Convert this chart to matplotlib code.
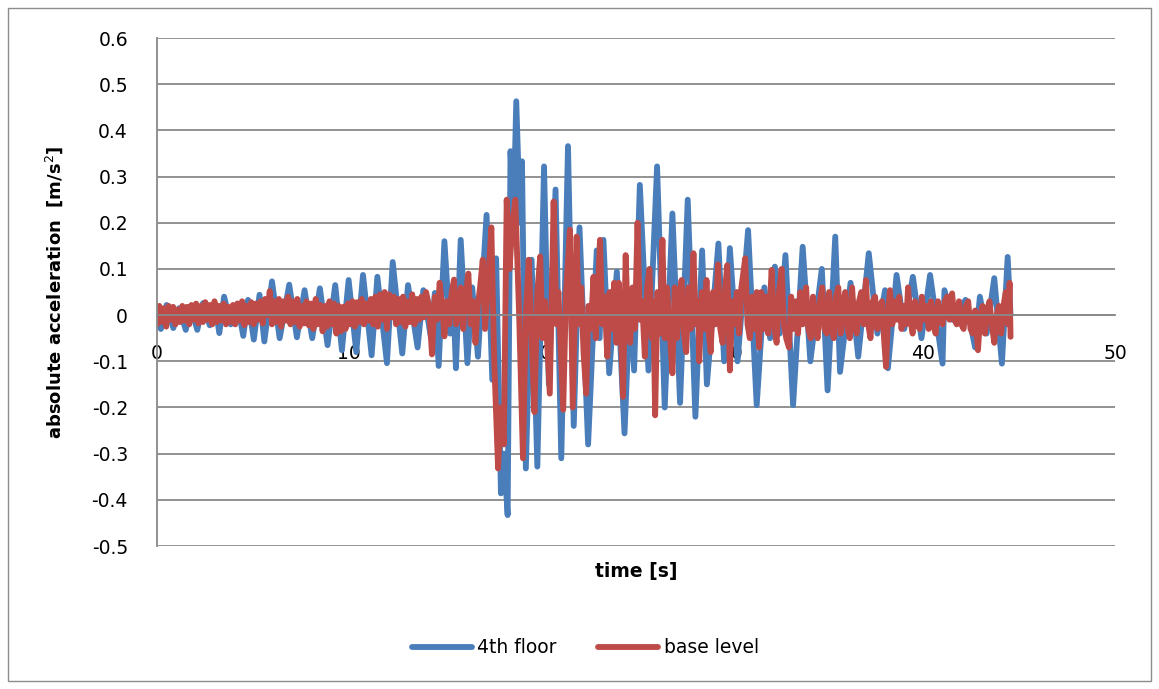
import matplotlib
matplotlib.use("Agg")
import matplotlib.pyplot as plt
from matplotlib.patches import Rectangle

# 4th floor record, peaks and troughs [s], [m/s2]
floor4_t = [0.0, 0.2, 0.5, 0.85, 1.15, 1.5, 1.75, 2.1, 2.4, 2.75, 3.05, 3.25, 3.5, 3.85,
            4.2, 4.5, 4.75, 5.05, 5.35, 5.6, 6.0, 6.4, 6.9, 7.3, 7.7, 8.1, 8.5, 8.9,
            9.3, 9.65, 10.0, 10.4, 10.75, 11.2, 11.5, 12.0, 12.3, 12.8, 13.1, 13.6,
            13.9, 14.3, 14.5, 14.7, 15.0, 15.3, 15.45, 15.6, 15.85, 16.2, 16.45, 16.75,
            17.2, 17.5, 17.7, 17.95, 18.1, 18.3, 18.45, 18.6, 18.75, 18.95, 19.05,
            19.25, 19.55, 19.85, 20.2, 20.45, 20.8, 21.1, 21.45, 21.75, 22.05, 22.5,
            22.95, 23.1, 23.3, 23.6, 24.0, 24.4, 24.7, 24.9, 25.2, 25.65, 26.1, 26.5,
            26.9, 27.3, 27.7, 28.1, 28.45, 28.7, 29.3, 29.6, 29.9, 30.3, 30.85, 31.3,
            31.7, 32.0, 32.25, 32.5, 32.8, 33.2, 33.7, 34.1, 34.7, 35.0, 35.4, 35.65,
            36.2, 36.6, 37.15, 37.6, 38.0, 38.15, 38.6, 39.0, 39.45, 39.9, 40.35, 41.0,
            41.1, 41.5, 42.2, 42.7, 42.95, 43.3, 43.7, 44.1, 44.4, 44.55]
floor4_a = [-0.01, -0.03, 0.022, -0.028, 0.015, -0.032, 0.019, -0.032, 0.026, -0.022, 0.018,
            -0.039, 0.04, -0.02, 0.025, -0.045, 0.033, -0.053, 0.044, -0.057, 0.073, -0.05,
            0.066, -0.048, 0.054, -0.05, 0.058, -0.065, 0.065, -0.076, 0.076, -0.08, 0.087,
            -0.087, 0.083, -0.104, 0.115, -0.083, 0.065, -0.07, 0.054, -0.05, 0.048, -0.11,
            0.16, -0.04, 0.05, -0.115, 0.163, -0.104, 0.06, -0.09, 0.217, -0.14, 0.123,
            -0.386, -0.3, -0.433, 0.355, 0.2, 0.463, 0.2, 0.333, -0.332, 0.12, -0.328,
            0.322, -0.15, 0.272, -0.31, 0.366, -0.24, 0.19, -0.28, 0.14, -0.05, 0.163,
            -0.126, 0.094, -0.256, 0.05, -0.12, 0.282, -0.12, 0.322, -0.2, 0.22, -0.19,
            0.25, -0.22, 0.14, -0.15, 0.155, -0.1, 0.145, -0.1, 0.184, -0.195, 0.06, -0.05,
            0.105, -0.04, 0.13, -0.195, 0.148, -0.1, 0.1, -0.163, 0.17, -0.123, 0.07, -0.09,
            0.134, -0.04, 0.054, -0.115, 0.087, -0.03, 0.083, -0.05, 0.087, -0.105, 0.054,
            -0.01, 0.033, -0.07, 0.04, -0.04, 0.08, -0.105, 0.126, 0.0]

# base level record, split by phase of the shaking: (t [s], a [m/s2])
base_early = [
    (0.00, -0.02), (0.12, 0.02), (0.24, -0.015), (0.36, 0.015), (0.48, -0.025),
    (0.60, 0.02), (0.72, -0.01), (0.84, 0.018), (0.96, -0.02), (1.08, 0.012),
    (1.20, -0.015), (1.32, 0.02), (1.44, -0.012), (1.56, 0.018), (1.68, -0.02),
    (1.80, 0.022), (1.92, -0.01), (2.04, 0.025), (2.16, -0.018), (2.28, 0.02),
    (2.40, -0.015), (2.52, 0.028), (2.64, -0.01), (2.76, 0.022), (2.88, -0.02),
    (3.00, 0.03), (3.12, -0.015), (3.24, 0.02), (3.36, -0.012), (3.48, 0.025),
    (3.60, -0.02), (3.72, 0.018), (3.84, -0.015), (3.96, 0.022), (4.08, -0.02),
    (4.20, 0.025), (4.32, -0.012), (4.44, 0.03), (4.56, -0.022), (4.68, 0.02),
    (4.80, -0.015), (4.92, 0.028), (5.04, -0.02), (5.16, 0.025), (5.28, -0.01),
    (5.40, 0.03), (5.52, -0.018), (5.64, 0.035), (5.76, 0.0), (5.88, 0.052),
    (6.00, -0.02), (6.12, 0.03), (6.24, -0.015), (6.36, 0.035), (6.48, -0.025),
    (6.60, 0.03), (6.72, -0.012), (6.84, 0.04), (6.96, -0.02), (7.08, 0.03),
    (7.20, -0.015), (7.32, 0.035), (7.44, -0.025), (7.56, 0.02), (7.68, -0.018),
    (7.80, 0.03), (7.92, -0.022), (8.04, 0.025), (8.16, -0.03), (8.28, 0.035),
    (8.40, -0.02), (8.52, 0.022), (8.64, -0.035), (8.76, 0.02), (8.88, -0.025),
    (9.00, 0.03), (9.12, -0.02), (9.24, 0.025), (9.36, -0.04), (9.48, 0.02),
    (9.60, -0.035), (9.72, 0.018), (9.84, -0.03), (9.96, 0.025), (10.08, -0.02),
    (10.20, 0.03), (10.32, -0.025), (10.44, 0.028), (10.56, -0.015), (10.68, 0.035),
    (10.80, -0.02), (10.92, 0.025), (11.04, -0.012), (11.16, 0.035), (11.28, -0.02),
    (11.40, 0.04), (11.52, -0.025), (11.64, 0.045), (11.76, -0.01), (11.88, 0.05),
    (12.00, -0.03), (12.12, 0.045), (12.24, -0.005), (12.36, 0.04), (12.48, -0.02),
    (12.60, 0.035), (12.72, -0.015), (12.84, 0.04), (12.96, -0.025), (13.08, 0.03),
    (13.20, -0.015), (13.32, 0.045), (13.44, -0.02), (13.56, 0.035), (13.68, -0.01),
    (13.80, 0.04), (13.92, -0.005), (14.04, 0.05)]
base_strong = [
    (14.20, 0.02), (14.35, -0.085), (14.50, 0.04), (14.62, -0.01), (14.75, 0.07),
    (14.88, 0.02), (15.00, -0.046), (15.12, 0.03), (15.25, -0.02), (15.38, 0.05),
    (15.50, 0.077), (15.62, -0.02), (15.74, 0.01), (15.86, 0.06), (15.98, -0.03),
    (16.10, 0.04), (16.25, 0.09), (16.37, -0.02), (16.50, 0.03), (16.62, -0.06),
    (16.74, 0.02), (16.86, 0.06), (17.00, 0.12), (17.12, -0.03), (17.25, 0.05),
    (17.45, 0.19), (17.60, -0.1), (17.80, -0.332), (17.95, -0.2), (18.10, -0.28),
    (18.25, 0.25), (18.40, 0.1), (18.55, 0.2), (18.70, 0.25), (18.90, 0.0),
    (19.10, -0.31), (19.25, 0.0), (19.40, 0.12), (19.55, -0.05), (19.70, -0.21),
    (19.85, 0.05), (20.00, 0.127), (20.12, -0.05), (20.25, 0.03), (20.50, -0.17),
    (20.70, 0.246), (20.85, -0.02), (20.95, 0.05), (21.20, -0.205), (21.35, 0.05),
    (21.55, 0.185), (21.70, -0.2), (21.90, 0.17), (22.02, -0.02), (22.14, 0.06),
    (22.26, -0.08), (22.40, -0.17), (22.52, 0.02), (22.64, -0.03), (22.78, 0.083),
    (22.90, -0.05), (23.02, 0.06), (23.12, 0.163), (23.24, -0.02), (23.36, 0.04),
    (23.50, -0.09), (23.62, 0.05), (23.74, -0.03), (23.86, 0.07), (23.98, -0.06),
    (24.10, 0.07), (24.22, -0.04), (24.32, -0.177), (24.46, 0.13), (24.58, -0.02),
    (24.70, -0.06), (24.82, 0.06), (24.94, -0.03), (25.08, 0.2), (25.20, -0.01),
    (25.32, 0.03), (25.46, -0.09), (25.58, 0.06), (25.70, 0.1), (25.82, -0.05),
    (25.90, 0.03), (26.00, -0.217), (26.12, 0.05), (26.24, -0.04), (26.38, 0.163),
    (26.50, -0.05), (26.62, 0.06), (26.76, -0.04), (26.90, -0.126), (27.02, 0.06),
    (27.14, -0.05), (27.26, 0.04), (27.38, 0.076), (27.50, -0.04), (27.62, -0.08),
    (27.74, 0.06), (27.86, -0.03), (28.00, 0.134), (28.12, -0.02), (28.24, 0.03),
    (28.30, -0.1), (28.44, 0.05), (28.56, -0.03), (28.68, 0.076), (28.80, -0.04),
    (28.90, -0.08), (29.02, 0.05), (29.14, -0.02), (29.28, 0.11), (29.40, -0.03),
    (29.52, -0.06), (29.64, 0.05), (29.76, 0.108), (29.90, -0.12)]
base_tail = [
    (30.02, 0.03), (30.14, -0.02), (30.26, 0.05), (30.38, -0.04), (30.50, 0.06),
    (30.70, 0.123), (30.82, -0.02), (30.94, -0.05), (31.06, 0.04), (31.18, -0.03),
    (31.30, 0.05), (31.42, -0.07), (31.54, 0.05), (31.66, -0.03), (31.78, 0.04),
    (31.90, -0.04), (32.08, 0.098), (32.20, -0.02), (32.34, -0.06), (32.46, 0.05),
    (32.60, 0.1), (32.72, -0.02), (32.84, -0.05), (32.98, -0.07), (33.10, 0.04),
    (33.22, -0.03), (33.34, 0.03), (33.46, -0.04), (33.58, 0.05), (33.70, -0.02),
    (33.88, 0.06), (34.00, -0.03), (34.12, -0.05), (34.24, 0.04), (34.36, -0.02),
    (34.48, -0.05), (34.60, 0.03), (34.72, 0.06), (34.84, -0.03), (34.96, -0.04),
    (35.08, 0.05), (35.20, -0.02), (35.32, -0.05), (35.44, 0.04), (35.56, 0.06),
    (35.68, -0.04), (35.80, 0.02), (35.92, 0.05), (36.04, -0.03), (36.16, -0.05),
    (36.28, 0.06), (36.40, -0.02), (36.52, -0.04), (36.64, 0.03), (36.76, 0.05),
    (36.88, -0.02), (37.00, 0.076), (37.12, -0.02), (37.24, -0.05), (37.36, 0.03),
    (37.48, 0.04), (37.60, -0.03), (37.72, 0.02), (37.84, 0.03), (37.96, -0.06),
    (38.05, -0.112), (38.18, 0.02), (38.26, 0.054), (38.38, -0.02), (38.50, 0.03),
    (38.62, -0.01), (38.74, 0.04), (38.86, -0.03), (38.98, 0.02), (39.10, -0.02),
    (39.20, 0.06), (39.32, -0.01), (39.44, -0.04), (39.56, 0.03), (39.68, -0.02),
    (39.80, -0.03), (39.92, 0.04), (40.04, -0.01), (40.16, 0.02), (40.28, -0.03),
    (40.40, 0.03), (40.52, -0.02), (40.64, -0.04), (40.76, 0.03), (40.88, -0.01),
    (41.00, -0.02), (41.12, 0.03), (41.24, 0.04), (41.36, -0.01), (41.50, 0.047),
    (41.62, -0.01), (41.74, -0.02), (41.86, 0.03), (41.98, -0.02), (42.10, -0.03),
    (42.22, 0.02), (42.34, 0.03), (42.46, -0.03), (42.58, -0.04), (42.70, 0.01),
    (42.85, -0.076), (42.97, 0.0), (43.09, 0.02), (43.21, -0.04), (43.33, 0.01),
    (43.45, 0.03), (43.57, -0.02), (43.70, -0.06), (43.82, 0.0), (43.94, 0.02),
    (44.06, -0.04), (44.18, 0.02), (44.30, 0.05), (44.42, -0.02), (44.50, 0.07),
    (44.55, -0.047)]

base_t = [p[0] for p in base_early + base_strong + base_tail]
base_a = [p[1] for p in base_early + base_strong + base_tail]

blue = "#4A7EBB"
red = "#BE4B48"
grid = "#898989"

fig = plt.figure(figsize=(11.59, 6.89), dpi=100)
ax = fig.add_axes([0.1355, 0.2075, 0.8265, 0.7373])

ax.plot(floor4_t, floor4_a, color=blue, lw=4.2, solid_joinstyle="round",
        solid_capstyle="round", label="4th floor")
ax.plot(base_t, base_a, color=red, lw=4.2, solid_joinstyle="round",
        solid_capstyle="round", label="base level")

ax.set_xlim(0, 50)
ax.set_ylim(-0.5, 0.6)
ax.set_yticks([-0.5, -0.4, -0.3, -0.2, -0.1, 0, 0.1, 0.2, 0.3, 0.4, 0.5, 0.6])
ax.set_yticklabels(["-0.5", "-0.4", "-0.3", "-0.2", "-0.1", "0", "0.1", "0.2",
                    "0.3", "0.4", "0.5", "0.6"])
ax.set_xticks([0, 10, 20, 30, 40, 50])
ax.yaxis.grid(True, color=grid, lw=1.3)
ax.set_axisbelow(True)

for s in ["top", "right"]:
    ax.spines[s].set_visible(False)
ax.spines["left"].set_color(grid)
ax.spines["left"].set_linewidth(1.3)
ax.spines["bottom"].set_position(("data", 0))
ax.spines["bottom"].set_color(grid)
ax.spines["bottom"].set_linewidth(1.3)
ax.tick_params(axis="y", length=0, pad=21, labelsize=13.5)
ax.tick_params(axis="x", length=0, pad=21, labelsize=13.5)

ax.text(-0.107, 0.5, "absolute acceleration  [m/s$^2$]", transform=ax.transAxes,
        rotation=90, ha="center", va="center", fontsize=13, fontweight="bold")
ax.text(0.5, -0.051, "time [s]", transform=ax.transAxes, ha="center", va="center",
        fontsize=13.5, fontweight="bold")

fig.legend(loc="center", bbox_to_anchor=(0.505, 0.06), ncol=2, frameon=False,
           fontsize=13.5, handlelength=3.2, handletextpad=0.3, columnspacing=2.2)

fig.patches.append(Rectangle((0.007, 0.012), 0.986, 0.976, transform=fig.transFigure,
                             fill=False, edgecolor="#8c8c8c", lw=1.0))

fig.savefig("out.png", dpi=100)
